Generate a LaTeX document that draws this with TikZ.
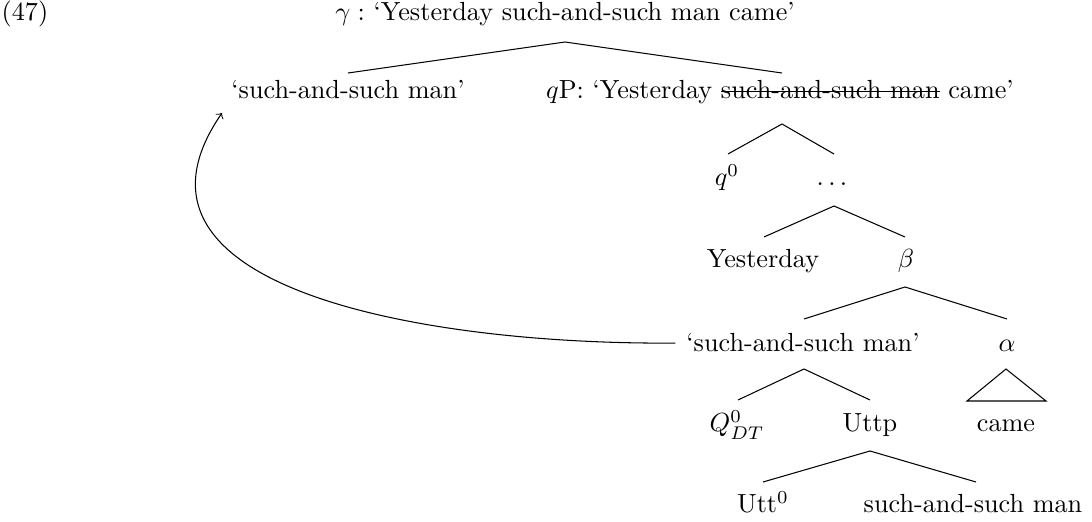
\documentclass[tikz,border=0pt]{standalone}
\newcommand\strk[1]{\setbox0=\hbox{#1}\rlap{\rule[0.6ex]{\wd0}{0.4pt}}\box0\relax}
\begin{document}
\begin{tikzpicture}[x=0.3817pt,y=-0.3817pt,
  lbl/.style={anchor=base,inner sep=0pt},
  br/.style={line width=0.4pt}]
\useasboundingbox (0,0) rectangle (1092,522);
% labels
\node[lbl] (ex) at (25,21) {(47)};
\node[lbl] (root) at (565,21) {$\gamma:$ ‘Yesterday such-and-such man came’};
\node[lbl] (usasm) at (348,99) {‘such-and-such man’};
\node[lbl] (qp) at (780,99) {$q$P: ‘Yesterday \strk{such-and-such man} came’};
\node[lbl] (q0) at (727,186) {$q^0$};
\node[lbl] (dots) at (832,186) {$\ldots$};
\node[lbl] (yest) at (763,268) {Yesterday};
\node[lbl] (beta) at (906,268) {$\beta$};
\node[lbl] (lsasm) at (803,352) {‘such-and-such man’};
\node[lbl] (alpha) at (1007,352) {$\alpha$};
\node[lbl] (qdt) at (737,432) {$Q^0_{DT}$};
\node[lbl] (uttp) at (870,432) {Uttp};
\node[lbl] (came) at (1006,432) {came};
\node[lbl] (utt0) at (763,513) {Utt$^0$};
\node[lbl] (sasm) at (973,513) {such-and-such man};
% branch points
\coordinate (root-b) at (565,42);
\coordinate (usasm-t) at (348,73);
\coordinate (qp-t) at (782,73);
\coordinate (qp-b) at (782,124);
\coordinate (q0-t) at (728,154);
\coordinate (dots-t) at (834,154);
\coordinate (dots-b) at (834,206);
\coordinate (yest-t) at (764,237);
\coordinate (beta-t) at (905,237);
\coordinate (beta-b) at (905,287);
\coordinate (lsasm-t) at (804,319);
\coordinate (alpha-t) at (1007,319);
\coordinate (lsasm-b) at (804,369);
\coordinate (qdt-t) at (738,400);
\coordinate (uttp-t) at (870,400);
\coordinate (alpha-b) at (1006,369);
\coordinate (tri-l) at (967,401);
\coordinate (tri-r) at (1046,401);
\coordinate (uttp-b) at (870,451);
\coordinate (utt0-t) at (763,482);
\coordinate (sasm-t) at (976,482);
\coordinate (tgt) at (222,113);
% branches
\draw[br] (usasm-t) -- (root-b) -- (qp-t);
\draw[br] (q0-t) -- (qp-b) -- (dots-t);
\draw[br] (yest-t) -- (dots-b) -- (beta-t);
\draw[br] (lsasm-t) -- (beta-b) -- (alpha-t);
\draw[br] (qdt-t) -- (lsasm-b) -- (uttp-t);
\draw[br] (tri-l) -- (alpha-b) -- (tri-r) -- cycle;
\draw[br] (utt0-t) -- (uttp-b) -- (sasm-t);
% movement arrow
\draw[br,->] ([xshift=-4pt]lsasm.west) .. controls (430,345) and (100,290) .. (tgt);
\end{tikzpicture}
\end{document}
